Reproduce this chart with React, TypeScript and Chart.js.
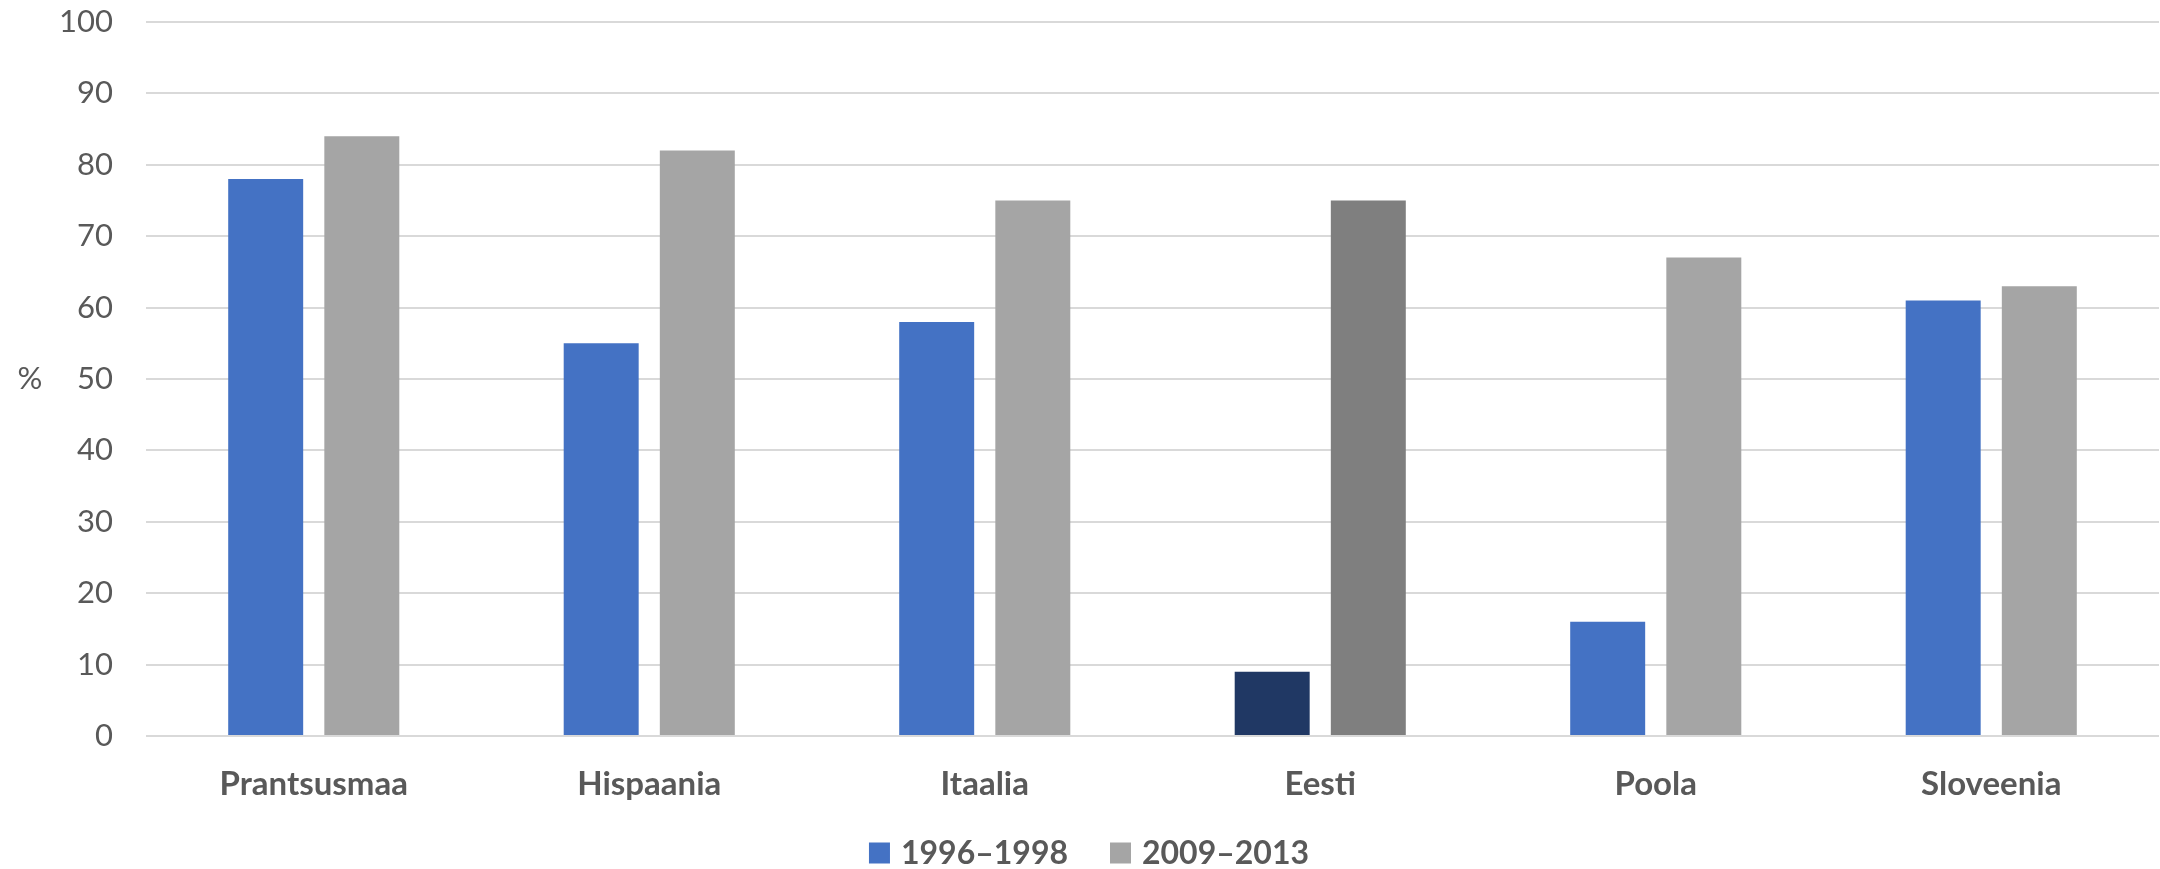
import React, { useEffect, useRef } from "react";
import { Chart, registerables } from "chart.js";

Chart.register(...registerables);

const categories = ["Prantsusmaa", "Hispaania", "Itaalia", "Eesti", "Poola", "Sloveenia"];
const seriesNames = ["1996–1998", "2009–2013"];
const values1996 = [78, 55, 58, 9, 16, 61];
const values2009 = [84, 82, 75, 75, 67, 63];
const highlightCategory = "Eesti";
const yTicks = [0, 10, 20, 30, 40, 50, 60, 70, 80, 90, 100];
const yAxisLabel = "%";

const blue = "#4472c4";
const blueDark = "#203864";
const gray = "#a5a5a5";
const grayDark = "#7f7f7f";
const seriesColors = [blue, gray];
const textColor = "#595959";
const font = "Lato, 'Open Sans', sans-serif";

export default function App() {
  const ref = useRef<HTMLCanvasElement | null>(null);
  useEffect(() => {
    document.body.style.margin = "0";
    const hi = categories.indexOf(highlightCategory);
    const colorFor = (normal: string, dark: string) => (ctx: any) =>
      ctx.dataIndex === hi ? dark : normal;

    const extrasPlugin = {
      id: "extras",
      afterDraw(chart: any) {
        const { ctx, chartArea } = chart;
        ctx.save();
        // y-axis unit label (horizontal)
        ctx.fillStyle = textColor;
        ctx.font = `31px ${font}`;
        ctx.textAlign = "center";
        ctx.textBaseline = "middle";
        ctx.fillText(yAxisLabel, 30, (chartArea.top + chartArea.bottom) / 2);

        // legend
        const box = 21;
        const gap = 11;
        const spacing = 42;
        ctx.font = `bold 32px ${font}`;
        const names = chart.data.datasets.map((d: any) => d.label);
        const widths = names.map((n: string) => ctx.measureText(n).width);
        const total =
          widths.reduce((a: number, w: number) => a + box + gap + w, 0) +
          spacing * (names.length - 1);
        let x = chart.width / 2 + 9 - total / 2;
        const cy = 853;
        ctx.textAlign = "left";
        names.forEach((n: string, i: number) => {
          ctx.fillStyle = seriesColors[i];
          ctx.fillRect(x, cy - box / 2, box, box);
          ctx.fillStyle = textColor;
          ctx.fillText(n, x + box + gap, cy + 1);
          x += box + gap + widths[i] + spacing;
        });
        ctx.restore();
      },
    };

    const chart = new Chart(ref.current!, {
      type: "bar",
      data: {
        labels: categories,
        datasets: [
          {
            label: seriesNames[0],
            data: values1996,
            backgroundColor: colorFor(blue, blueDark),
            borderWidth: 0,
            categoryPercentage: 0.573,
            barPercentage: 0.78,
          },
          {
            label: seriesNames[1],
            data: values2009,
            backgroundColor: colorFor(gray, grayDark),
            borderWidth: 0,
            categoryPercentage: 0.573,
            barPercentage: 0.78,
          },
        ],
      },
      options: {
        animation: false,
        responsive: false,
        maintainAspectRatio: false,
        layout: { padding: { top: 22, right: 1, left: 0, bottom: 59 } },
        plugins: {
          tooltip: { enabled: false },
          legend: { display: false },
        },
        scales: {
          x: {
            grid: { display: false, drawTicks: false },
            border: { display: false },
            ticks: {
              color: textColor,
              padding: 29,
              font: { family: font, size: 33, weight: "bold" },
            },
            afterFit: (s: any) => {
              s.height = 74;
            },
          },
          y: {
            min: 0,
            max: 100,
            afterBuildTicks: (s: any) => {
              s.ticks = yTicks.map((v) => ({ value: v }));
            },
            grid: { color: "#d9d9d9", lineWidth: 2, drawTicks: false },
            border: { display: false },
            ticks: {
              color: textColor,
              padding: 33,
              font: { family: font, size: 31 },
            },
            afterFit: (s: any) => {
              s.width = 146;
              s.paddingTop = 0;
              s.paddingBottom = 0;
            },
          },
        },
      },
      plugins: [extrasPlugin],
    });
    return () => chart.destroy();
  }, []);

  return (
    <div style={{ position: "absolute", left: 0, top: 0, width: 2160, height: 869 }}>
      <canvas ref={ref} width={2160} height={869} style={{ width: 2160, height: 869 }} />
    </div>
  );
}
